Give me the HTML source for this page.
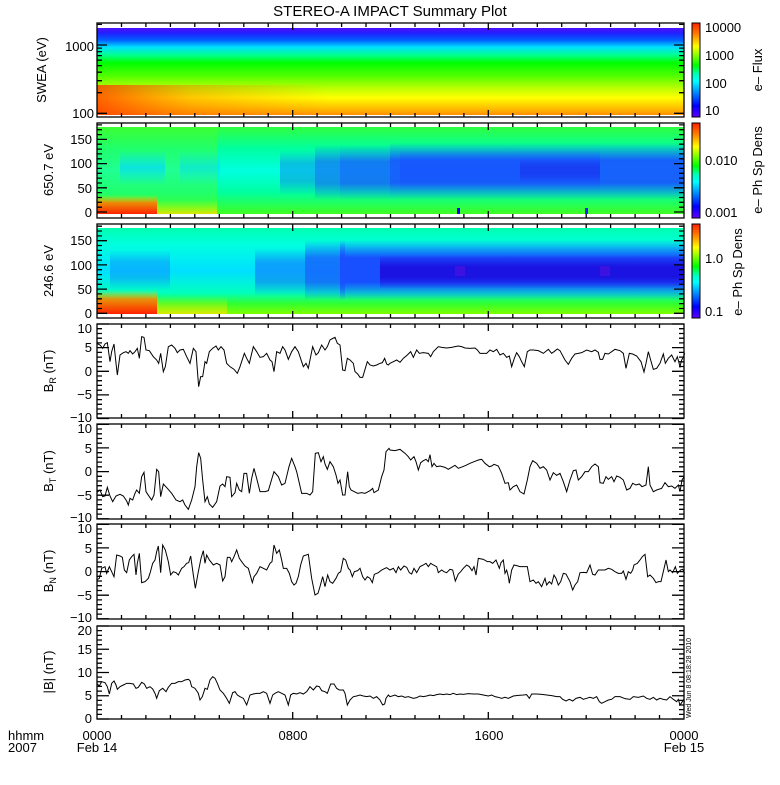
<!DOCTYPE html>
<html><head><meta charset="utf-8"><style>
html,body{margin:0;padding:0;background:#fff;}
svg text{font-family:"Liberation Sans",sans-serif;fill:#000;}
</style></head><body>
<svg width="780" height="780" xmlns="http://www.w3.org/2000/svg" xmlns:xlink="http://www.w3.org/1999/xlink">
<defs>
<linearGradient id="rb" x1="0" y1="0" x2="0" y2="1">
<stop offset="0" stop-color="#ff2000"/><stop offset="0.12" stop-color="#ff8000"/><stop offset="0.25" stop-color="#ffff00"/><stop offset="0.35" stop-color="#80ff00"/><stop offset="0.45" stop-color="#00ff00"/><stop offset="0.55" stop-color="#00ffc0"/><stop offset="0.62" stop-color="#00ffff"/><stop offset="0.75" stop-color="#0080ff"/><stop offset="0.88" stop-color="#0000ff"/><stop offset="1" stop-color="#6000ff"/>
</linearGradient>
<linearGradient id="g1" x1="0" y1="28" x2="0" y2="115" gradientUnits="userSpaceOnUse">
<stop offset="0" stop-color="#5010ff"/><stop offset="0.06" stop-color="#2020ff"/><stop offset="0.14" stop-color="#0060ff"/><stop offset="0.22" stop-color="#00e0ff"/><stop offset="0.31" stop-color="#00ff90"/><stop offset="0.4" stop-color="#00ff00"/><stop offset="0.55" stop-color="#50ff00"/><stop offset="0.7" stop-color="#c0ff00"/><stop offset="0.8" stop-color="#ffff00"/><stop offset="0.92" stop-color="#ffc000"/><stop offset="1" stop-color="#ff9000"/>
</linearGradient>
<linearGradient id="g1l" x1="97" y1="0" x2="330" y2="0" gradientUnits="userSpaceOnUse">
<stop offset="0" stop-color="#ff3000" stop-opacity="0.75"/><stop offset="0.4" stop-color="#ff6000" stop-opacity="0.35"/><stop offset="1" stop-color="#ff8000" stop-opacity="0"/>
</linearGradient>
<linearGradient id="fadeV" x1="0" y1="0" x2="0" y2="1">
<stop offset="0" stop-color="#fff" stop-opacity="0"/><stop offset="1" stop-color="#fff" stop-opacity="1"/>
</linearGradient>
<linearGradient id="g2" x1="0" y1="127" x2="0" y2="214" gradientUnits="userSpaceOnUse">
<stop offset="0" stop-color="#30ff40"/><stop offset="0.25" stop-color="#00ffa0"/><stop offset="0.5" stop-color="#00ffe0"/><stop offset="0.75" stop-color="#00ffa0"/><stop offset="1" stop-color="#40ff20"/>
</linearGradient>
<linearGradient id="g3" x1="0" y1="228" x2="0" y2="314" gradientUnits="userSpaceOnUse">
<stop offset="0" stop-color="#00ffb0"/><stop offset="0.2" stop-color="#00ffe0"/><stop offset="0.5" stop-color="#00e0ff"/><stop offset="0.75" stop-color="#00ffc0"/><stop offset="0.88" stop-color="#30ff30"/><stop offset="1" stop-color="#80ff00"/>
</linearGradient>
<linearGradient id="bv" x1="0" y1="0" x2="0" y2="1">
<stop offset="0" stop-color="#1850ff" stop-opacity="0"/><stop offset="0.3" stop-color="#1850ff" stop-opacity="1"/><stop offset="0.7" stop-color="#1850ff" stop-opacity="1"/><stop offset="1" stop-color="#1850ff" stop-opacity="0"/>
</linearGradient>
<linearGradient id="bv2" x1="0" y1="0" x2="0" y2="1">
<stop offset="0" stop-color="#1a10e0" stop-opacity="0"/><stop offset="0.35" stop-color="#1a10e0" stop-opacity="1"/><stop offset="0.65" stop-color="#1a10e0" stop-opacity="1"/><stop offset="1" stop-color="#1a10e0" stop-opacity="0"/>
</linearGradient>
<linearGradient id="cv" x1="0" y1="0" x2="0" y2="1">
<stop offset="0" stop-color="#00e0ff" stop-opacity="0"/><stop offset="0.5" stop-color="#00d8ff" stop-opacity="1"/><stop offset="1" stop-color="#00e0ff" stop-opacity="0"/>
</linearGradient>
<linearGradient id="rv" x1="0" y1="0" x2="0" y2="1">
<stop offset="0" stop-color="#ffd000" stop-opacity="0"/><stop offset="0.4" stop-color="#ff8000" stop-opacity="0.9"/><stop offset="1" stop-color="#ff2000"/>
</linearGradient>
<linearGradient id="yv" x1="0" y1="0" x2="0" y2="1">
<stop offset="0" stop-color="#c0ff00" stop-opacity="0"/><stop offset="1" stop-color="#ffe000"/>
</linearGradient>
<path id="tk" d="M121.5 0v4M145.9 0v4M170.4 0v4M194.8 0v4M219.3 0v4M243.8 0v4M268.2 0v4M292.7 0v7M317.1 0v4M341.6 0v4M366 0v4M390.5 0v4M415 0v4M439.4 0v4M463.9 0v4M488.3 0v7M512.8 0v4M537.3 0v4M561.7 0v4M586.2 0v4M610.6 0v4M635.1 0v4M659.5 0v4"/>
<path id="bt" d="M0 0h12M0 4.7h5M0 9.5h5M0 14.2h5M0 18.9h5M0 23.6h12M0 28.4h5M0 33.1h5M0 37.8h5M0 42.5h5M0 47.3h12M0 52h5M0 56.7h5M0 61.4h5M0 66.2h5M0 70.9h12M0 75.6h5M0 80.3h5M0 85h5M0 89.8h5M0 94.5h12"/>
<path id="pt" d="M0 0h10M0 -4.8h5M0 -9.7h5M0 -14.5h5M0 -19.4h5M0 -24.2h10M0 -29h5M0 -33.9h5M0 -38.7h5M0 -43.6h5M0 -48.4h10M0 -53.2h5M0 -58.1h5M0 -62.9h5M0 -67.8h5M0 -72.6h10M0 -77.4h5M0 -82.3h5M0 -87.1h5"/>
<path id="lt" d="M0 113.3h10M0 92.7h5M0 80.7h5M0 72.2h5M0 65.6h5M0 60.2h5M0 55.6h5M0 51.6h5M0 48.1h5M0 45h10M0 24.4h5"/>
</defs>

<text x="390" y="16" font-size="15" text-anchor="middle">STEREO-A IMPACT Summary Plot</text>

<!-- panel 1 -->
<rect x="97" y="28" width="587" height="87" fill="url(#g1)"/>
<rect x="97" y="85" width="240" height="30" fill="url(#g1l)"/>
<!-- panel 2 -->
<rect x="97" y="127" width="587" height="87" fill="url(#g2)"/>
<rect x="97" y="127" width="120" height="87" fill="#50ff20" opacity="0.4"/>
<rect x="120" y="150" width="45" height="35" fill="url(#cv)" opacity="0.7"/>
<rect x="180" y="150" width="40" height="35" fill="url(#cv)" opacity="0.5"/>
<rect x="280" y="150" width="35" height="45" fill="url(#bv)" opacity="0.35"/>
<rect x="315" y="145" width="25" height="55" fill="url(#bv)" opacity="0.6"/>
<rect x="340" y="145" width="50" height="55" fill="url(#bv)" opacity="0.75"/>
<rect x="390" y="143" width="294" height="57" fill="url(#bv)" opacity="0.9"/>
<rect x="400" y="150" width="200" height="40" fill="url(#bv)" opacity="0.5"/>
<rect x="520" y="158" width="80" height="25" fill="url(#bv2)" opacity="0.35"/>
<rect x="97" y="195" width="60" height="19" fill="url(#rv)"/>
<rect x="157" y="200" width="60" height="14" fill="url(#yv)" opacity="0.8"/>
<rect x="457" y="208" width="3" height="6" fill="#0000ff"/>
<rect x="585" y="208" width="3" height="6" fill="#2020ff"/>
<!-- panel 3 -->
<rect x="97" y="228" width="587" height="86" fill="url(#g3)"/>
<rect x="110" y="250" width="60" height="40" fill="url(#bv)" opacity="0.3"/>
<rect x="255" y="248" width="50" height="48" fill="url(#bv)" opacity="0.45"/>
<rect x="305" y="240" width="40" height="60" fill="url(#bv)" opacity="0.75"/>
<rect x="340" y="240" width="344" height="60" fill="url(#bv)"/>
<rect x="380" y="255" width="304" height="34" fill="url(#bv2)" opacity="0.95"/>
<rect x="97" y="290" width="60" height="24" fill="url(#rv)"/>
<rect x="157" y="296" width="70" height="18" fill="url(#yv)" opacity="0.7"/>
<rect x="455" y="266" width="10" height="10" fill="#6010e0" opacity="0.5"/>
<rect x="600" y="266" width="10" height="10" fill="#6010e0" opacity="0.5"/>

<!-- colorbars -->
<rect x="692" y="23" width="8" height="94" fill="url(#rb)" stroke="#000"/>
<rect x="692" y="123" width="8" height="95" fill="url(#rb)" stroke="#000"/>
<rect x="692" y="224" width="8" height="94" fill="url(#rb)" stroke="#000"/>
<g font-size="13">
<text x="705" y="32">10000</text><text x="705" y="60">1000</text><text x="705" y="88">100</text><text x="705" y="115">10</text>
<text x="705" y="165">0.010</text><text x="705" y="217">0.001</text>
<text x="705" y="263">1.0</text><text x="705" y="316">0.1</text>
<text transform="translate(762 70) rotate(-90)" text-anchor="middle">e– Flux</text>
<text transform="translate(762 170) rotate(-90)" text-anchor="middle">e– Ph Sp Dens</text>
<text transform="translate(742 272) rotate(-90)" text-anchor="middle">e– Ph Sp Dens</text>
</g>

<!-- y labels -->
<g font-size="13">
<text transform="translate(46 70) rotate(-90)" text-anchor="middle">SWEA (eV)</text>
<text transform="translate(53 170) rotate(-90)" text-anchor="middle">650.7 eV</text>
<text transform="translate(53 271) rotate(-90)" text-anchor="middle">246.6 eV</text>
<text transform="translate(53 371) rotate(-90)" text-anchor="middle">B<tspan font-size="9" dy="3">R</tspan><tspan dy="-3"> (nT)</tspan></text>
<text transform="translate(53 471) rotate(-90)" text-anchor="middle">B<tspan font-size="9" dy="3">T</tspan><tspan dy="-3"> (nT)</tspan></text>
<text transform="translate(53 571) rotate(-90)" text-anchor="middle">B<tspan font-size="9" dy="3">N</tspan><tspan dy="-3"> (nT)</tspan></text>
<text transform="translate(53 672) rotate(-90)" text-anchor="middle">|B| (nT)</text>
</g>
<g font-size="13" text-anchor="end">
<text x="94" y="51">1000</text><text x="94" y="118">100</text>
<text x="92" y="144">150</text><text x="92" y="168">100</text><text x="92" y="193">50</text><text x="92" y="217">0</text>
<text x="92" y="245">150</text><text x="92" y="270">100</text><text x="92" y="294">50</text><text x="92" y="318">0</text>
<text x="92" y="333">10</text><text x="92" y="352">5</text><text x="92" y="376">0</text><text x="92" y="399">−5</text><text x="92" y="422">−10</text>
<text x="92" y="433">10</text><text x="92" y="453">5</text><text x="92" y="476">0</text><text x="92" y="500">−5</text><text x="92" y="522">−10</text>
<text x="92" y="533">10</text><text x="92" y="553">5</text><text x="92" y="576">0</text><text x="92" y="600">−5</text><text x="92" y="622">−10</text>
<text x="92" y="635">20</text><text x="92" y="654">15</text><text x="92" y="677">10</text><text x="92" y="700">5</text><text x="92" y="723">0</text>
</g>
<text x="8" y="740" font-size="13">hhmm</text><text x="8" y="752" font-size="13">2007</text>
<g font-size="13" text-anchor="middle">
<text x="97" y="740">0000</text><text x="97" y="752">Feb 14</text>
<text x="293" y="740">0800</text>
<text x="489" y="740">1600</text>
<text x="684" y="740">0000</text><text x="684" y="752">Feb 15</text>
</g>
<text transform="translate(691 718) rotate(-90)" font-size="7">Wed Jun  8 08:18:28 2010</text>

<!-- axes -->
<g stroke="#000" stroke-width="1.3" fill="none">
<rect x="97" y="23" width="587" height="94"/>
<rect x="97" y="123" width="587" height="95"/>
<rect x="97" y="224" width="587" height="94"/>
<rect x="97" y="324" width="587" height="94"/>
<rect x="97" y="424" width="587" height="95"/>
<rect x="97" y="524" width="587" height="95"/>
<rect x="97" y="626" width="587" height="93"/>
<use xlink:href="#tk" href="#tk" transform="translate(0 23)"/><use xlink:href="#tk" href="#tk" transform="translate(0 117) scale(1 -1)"/>
<use xlink:href="#tk" href="#tk" transform="translate(0 123)"/><use xlink:href="#tk" href="#tk" transform="translate(0 218) scale(1 -1)"/>
<use xlink:href="#tk" href="#tk" transform="translate(0 224)"/><use xlink:href="#tk" href="#tk" transform="translate(0 318) scale(1 -1)"/>
<use xlink:href="#tk" href="#tk" transform="translate(0 324)"/><use xlink:href="#tk" href="#tk" transform="translate(0 418) scale(1 -1)"/>
<use xlink:href="#tk" href="#tk" transform="translate(0 424)"/><use xlink:href="#tk" href="#tk" transform="translate(0 519) scale(1 -1)"/>
<use xlink:href="#tk" href="#tk" transform="translate(0 524)"/><use xlink:href="#tk" href="#tk" transform="translate(0 619) scale(1 -1)"/>
<use xlink:href="#tk" href="#tk" transform="translate(0 626)"/><use xlink:href="#tk" href="#tk" transform="translate(0 719) scale(1 -1)"/>
<use xlink:href="#lt" href="#lt" transform="translate(97 0)"/><use xlink:href="#lt" href="#lt" transform="translate(684 0) scale(-1 1)"/>
<use xlink:href="#pt" href="#pt" transform="translate(97 212)"/><use xlink:href="#pt" href="#pt" transform="translate(684 212) scale(-1 1)"/>
<use xlink:href="#pt" href="#pt" transform="translate(97 313.3)"/><use xlink:href="#pt" href="#pt" transform="translate(684 313.3) scale(-1 1)"/>
<use xlink:href="#bt" href="#bt" transform="translate(97 324)"/><use xlink:href="#bt" href="#bt" transform="translate(684 324) scale(-1 1)"/>
<use xlink:href="#bt" href="#bt" transform="translate(97 424.3)"/><use xlink:href="#bt" href="#bt" transform="translate(684 424.3) scale(-1 1)"/>
<use xlink:href="#bt" href="#bt" transform="translate(97 524.3)"/><use xlink:href="#bt" href="#bt" transform="translate(684 524.3) scale(-1 1)"/>
<use xlink:href="#bt" href="#bt" transform="translate(97 626) scale(1 0.984)"/><use xlink:href="#bt" href="#bt" transform="translate(684 626) scale(-1 0.984)"/>
</g>

<g transform="translate(90 320) scale(0.33333)" fill="none" stroke="#000" stroke-width="3">
<polyline points="20,70 30,75 38,85 45,72 52,68 60,125 65,95 72,72 78,130 82,165 90,105 100,98 108,95 115,100 120,92 128,102 135,95 142,85 148,115 155,50 162,52 168,90 178,92 190,110 200,120 206,130 212,100 220,155 226,140 235,80 245,75 255,85 262,98 270,90 280,88 290,110 300,130 310,85 318,95 322,150 326,200 332,170 338,170 345,125 350,130 358,95 368,85 378,78 385,90 393,80 402,90 410,130 420,140 432,148 442,160 450,140 463,100 470,115 478,130 490,80 500,95 510,112 520,110 530,100 540,120 546,125 552,155 560,95 570,100 578,80 585,90 595,118 605,95 615,80 625,95 640,140 648,130 655,145 668,80 678,105 685,98 695,75 705,90 712,80 720,60 725,57 735,52 742,70 750,75 758,150 765,152 772,115 780,120 790,130 795,155 803,162 810,172 818,172 826,145 832,125 840,135 850,138 860,135 870,130 877,128 884,115 890,132 895,135 900,130 910,125 920,120 930,127 940,115 952,105 962,95 970,112 980,90 988,100 1000,98 1015,100 1022,110 1030,95 1045,80 1055,82 1070,84 1085,82 1095,80 1105,78 1115,80 1125,84 1140,85 1155,84 1162,90 1170,100 1180,100 1190,100 1200,90 1210,95 1220,88 1230,105 1240,100 1250,112 1258,108 1265,140 1273,115 1280,98 1288,110 1295,125 1303,140 1312,95 1320,90 1330,90 1345,92 1360,100 1375,88 1385,100 1392,95 1402,87 1410,92 1425,120 1435,133 1445,115 1455,102 1465,100 1475,98 1490,90 1505,95 1515,90 1525,97 1530,118 1538,118 1545,100 1555,102 1565,95 1575,88 1590,92 1600,100 1608,145 1618,100 1628,102 1640,108 1653,125 1662,156 1668,130 1675,95 1682,120 1690,148 1700,145 1710,130 1720,102 1726,130 1735,115 1745,105 1755,125 1762,110 1770,140 1775,120 1780,112 1784,100"/>
<polyline points="20,518 30,510 38,530 45,528 52,502 60,528 68,545 78,528 90,523 100,528 110,543 115,555 120,535 128,540 135,520 140,510 148,520 155,470 162,457 168,515 178,530 185,540 192,525 200,448 206,455 212,530 220,492 232,505 245,520 258,540 270,545 278,540 285,555 295,568 305,540 315,500 320,440 326,398 332,415 338,480 345,545 352,530 358,552 368,562 380,545 390,498 398,492 405,500 410,470 420,472 425,530 435,518 440,490 448,510 455,515 462,460 470,460 478,520 485,475 492,445 500,475 510,515 525,515 535,512 545,478 552,455 565,470 575,495 585,490 597,440 605,415 615,440 620,455 635,520 650,520 660,525 668,515 676,400 685,398 693,425 700,410 705,432 712,448 720,425 730,440 738,465 744,490 750,480 758,525 765,525 773,455 778,500 783,510 793,515 803,520 815,518 825,520 840,512 848,505 852,518 865,510 875,470 882,450 888,395 897,385 900,390 915,392 930,388 945,400 955,410 962,420 972,410 978,425 985,450 992,428 1000,422 1008,418 1015,425 1020,404 1026,440 1032,430 1040,440 1050,438 1065,442 1075,448 1085,442 1095,436 1105,445 1118,440 1128,436 1140,430 1155,424 1165,420 1175,418 1185,430 1198,440 1205,438 1212,433 1225,438 1235,460 1245,490 1255,488 1260,510 1270,500 1280,495 1290,515 1302,522 1312,480 1320,440 1328,422 1340,430 1350,445 1360,440 1370,450 1380,480 1390,458 1400,466 1410,460 1420,485 1430,515 1440,480 1450,452 1458,450 1465,480 1475,470 1485,455 1495,455 1505,440 1515,432 1525,440 1530,488 1540,490 1548,470 1555,478 1565,470 1572,485 1580,468 1590,472 1600,480 1610,510 1620,505 1628,490 1638,495 1648,492 1656,500 1668,495 1675,440 1680,495 1690,515 1700,510 1715,505 1725,488 1735,500 1745,498 1755,505 1765,495 1770,515 1776,480 1782,470"/>
</g>
<g transform="translate(90 520) scale(0.33333)" fill="none" stroke="#000" stroke-width="3">
<polyline points="20,180 28,175 35,145 45,140 50,160 58,140 65,155 72,170 80,105 90,108 97,112 103,150 110,158 118,120 125,110 132,103 138,165 142,130 148,100 155,188 165,185 175,175 180,160 188,130 195,120 200,95 205,78 212,158 218,75 226,90 235,125 242,165 250,155 258,158 265,165 275,145 282,140 290,130 296,128 302,108 310,165 316,205 325,155 333,115 340,92 345,130 350,105 358,120 370,135 380,130 390,135 398,183 405,170 412,112 420,112 425,125 432,110 440,90 448,115 455,125 465,138 475,145 487,188 492,170 500,160 510,140 520,145 530,150 540,130 546,125 552,75 560,100 568,90 575,120 580,145 590,145 598,160 605,185 612,195 618,190 625,170 632,135 640,108 655,103 665,175 675,225 684,220 690,200 698,170 705,200 713,165 720,185 728,190 738,175 745,160 752,155 760,115 767,120 775,145 780,150 787,170 793,155 803,152 810,145 818,170 825,180 832,170 840,175 847,188 853,163 865,158 875,150 885,145 890,143 900,150 910,145 918,158 925,140 932,150 942,138 950,142 958,158 965,162 972,145 980,158 990,140 1000,135 1008,130 1015,140 1022,130 1030,135 1040,140 1045,158 1055,150 1062,155 1070,158 1080,148 1088,150 1096,183 1105,162 1112,155 1120,145 1130,135 1138,140 1146,152 1152,140 1158,165 1165,115 1180,118 1192,125 1200,125 1208,130 1218,120 1228,145 1233,128 1240,120 1245,160 1250,150 1255,170 1258,190 1265,150 1272,135 1280,137 1290,140 1300,140 1312,140 1320,185 1330,180 1338,190 1345,185 1355,200 1365,175 1370,195 1378,185 1385,192 1392,165 1398,175 1405,195 1412,185 1420,160 1428,162 1440,185 1448,210 1455,195 1463,185 1470,158 1480,157 1490,158 1500,135 1508,163 1515,165 1525,150 1535,150 1545,150 1555,145 1565,148 1575,155 1585,160 1595,160 1600,153 1608,178 1615,155 1622,160 1628,150 1632,135 1642,130 1650,120 1657,110 1665,103 1673,170 1680,165 1690,175 1698,188 1705,185 1713,185 1720,155 1728,120 1735,155 1740,150 1748,158 1756,140 1762,160 1772,150 1778,148 1784,160"/>
<polyline points="20,490 28,498 35,485 45,488 52,500 58,522 65,490 72,483 78,495 82,508 90,500 100,495 110,490 120,490 130,492 138,505 145,502 155,487 163,492 170,505 180,500 188,507 195,520 200,535 208,512 218,505 228,515 235,502 245,490 255,490 265,485 275,485 285,480 295,478 300,482 305,500 315,505 325,520 330,540 337,530 345,505 352,508 360,480 368,470 375,475 382,490 390,510 400,520 410,535 418,550 428,518 435,515 442,525 450,530 460,535 470,555 480,525 490,522 500,520 510,520 520,515 530,520 540,550 548,525 555,520 565,515 575,520 585,525 595,555 602,525 610,520 620,522 630,518 640,522 650,515 660,500 670,510 680,498 688,500 695,512 705,515 712,520 722,492 732,492 740,505 748,510 760,510 765,520 772,555 780,540 790,530 800,528 810,525 820,528 830,530 840,528 850,535 860,530 870,540 878,555 884,552 888,535 895,525 900,530 915,525 925,530 935,528 945,532 955,530 970,535 980,533 990,528 1000,530 1010,528 1020,525 1030,527 1040,524 1050,522 1060,524 1070,522 1080,524 1090,520 1100,524 1110,522 1120,523 1135,521 1150,522 1165,522 1180,525 1195,528 1205,525 1215,530 1225,532 1235,535 1245,532 1255,535 1270,528 1285,526 1300,525 1310,524 1318,535 1325,522 1340,522 1355,523 1370,525 1385,527 1400,530 1410,530 1418,538 1428,543 1438,538 1448,543 1458,535 1470,532 1480,538 1490,535 1500,532 1510,535 1520,530 1528,545 1535,550 1545,545 1555,540 1565,538 1575,530 1590,530 1605,536 1620,538 1630,530 1645,532 1660,528 1670,535 1680,538 1690,532 1700,540 1710,535 1720,538 1730,540 1740,530 1750,538 1760,545 1765,538 1770,555 1775,548 1780,540 1784,545"/>
</g>
</svg>
</body></html>
